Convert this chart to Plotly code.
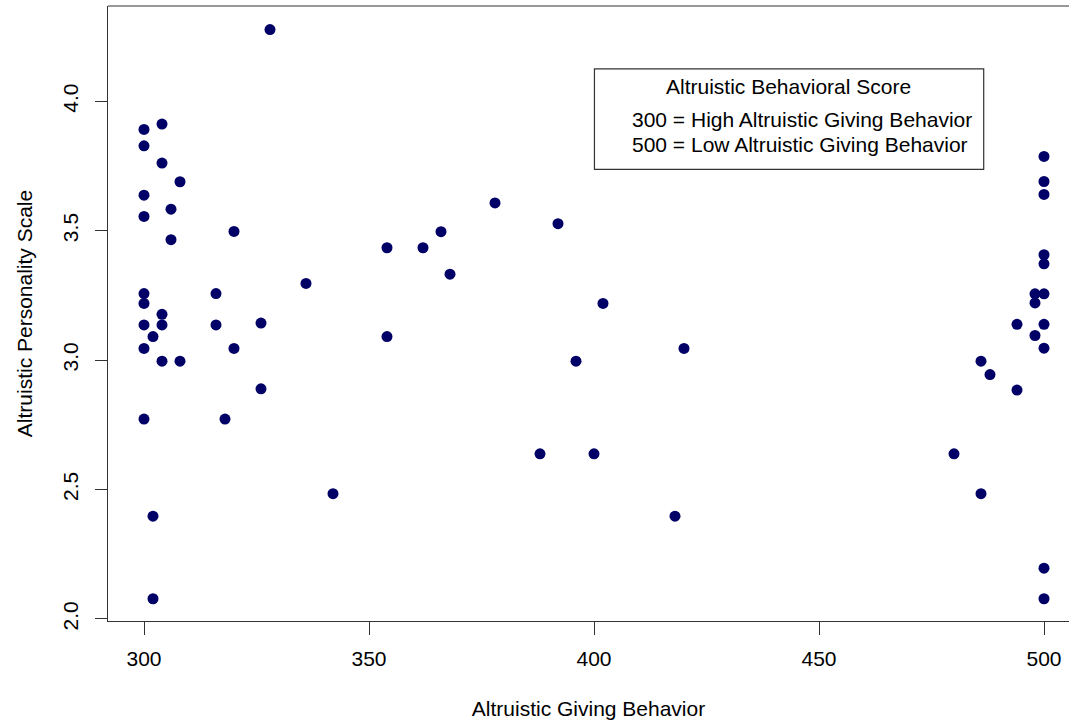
import plotly.graph_objects as go

# Altruistic Giving Behavior (x) and Altruistic Personality Scale (y)
giving = [
    328, 300, 304, 300, 304, 308, 300, 306, 300, 320, 306, 336, 300, 316,
    300, 304, 300, 304, 316, 326, 302, 300, 320, 304, 308, 326, 300, 318,
    342, 302, 302,
    378, 392, 366, 354, 362, 368, 402, 354, 420, 396, 388, 400, 418,
    500, 500, 500, 500, 500, 498, 500, 498, 494, 500, 498, 500, 486, 488,
    494, 480, 486, 500, 500,
]
personality = [
    4.277, 3.891, 3.912, 3.828, 3.761, 3.689, 3.637, 3.583, 3.555, 3.497,
    3.465, 3.296, 3.257, 3.257, 3.219, 3.177, 3.136, 3.136, 3.136, 3.143,
    3.091, 3.045, 3.045, 2.996, 2.996, 2.889, 2.772, 2.772, 2.484, 2.397,
    2.078,
    3.607, 3.527, 3.496, 3.434, 3.434, 3.332, 3.219, 3.091, 3.045, 2.996,
    2.638, 2.638, 2.397,
    3.787, 3.690, 3.640, 3.407, 3.372, 3.256, 3.256, 3.221, 3.138, 3.138,
    3.095, 3.046, 2.996, 2.944, 2.884, 2.638, 2.484, 2.196, 2.078,
]

x_ticks = [300, 350, 400, 450, 500]
y_ticks = [2.0, 2.5, 3.0, 3.5, 4.0]
y_tick_text = ["2.0", "2.5", "3.0", "3.5", "4.0"]

legend_title = "Altruistic Behavioral Score"
legend_lines = [
    "300 = High Altruistic Giving Behavior",
    "500 = Low Altruistic Giving Behavior",
]

FONT = "Liberation Sans, Arial, Helvetica, sans-serif"
FS = 21

fig = go.Figure()
fig.add_trace(go.Scatter(
    x=giving, y=personality, mode="markers",
    marker=dict(color="#000066", size=11, line=dict(width=0)),
    showlegend=False, hoverinfo="x+y",
))

fig.update_layout(
    width=1069, height=726,
    margin=dict(l=108, r=0, t=6, b=105),
    paper_bgcolor="white", plot_bgcolor="white",
    font=dict(family=FONT, size=FS, color="black"),
    showlegend=False,
)

fig.update_xaxes(
    range=[292, 292 + 961 / 4.5],
    tickvals=x_ticks, ticktext=[str(v) for v in x_ticks],
    ticks="outside", ticklen=13, tickwidth=1.2, tickcolor="#333",
    ticklabelstandoff=6,
    showline=True, linecolor="#333", linewidth=1.2,
    showgrid=False, zeroline=False,
    tickfont=dict(family=FONT, size=FS),
    title=dict(text="Altruistic Giving Behavior", standoff=32,
               font=dict(family=FONT, size=FS)),
    automargin=False,
)
fig.update_yaxes(
    range=[1.992, 4.368],
    tickvals=y_ticks, ticktext=y_tick_text, tickangle=-90,
    ticks="outside", ticklen=12, tickwidth=1.2, tickcolor="#333",
    ticklabelstandoff=9,
    showline=True, linecolor="#333", linewidth=1.2,
    showgrid=False, zeroline=False,
    tickfont=dict(family=FONT, size=FS),
    title=dict(text="Altruistic Personality Scale", standoff=20,
               font=dict(family=FONT, size=FS)),
    automargin=False,
)

# top border of the plot box (right side is cut off in the reference)
fig.add_shape(type="line", xref="paper", yref="paper", x0=0, x1=1, y0=1, y1=1,
              line=dict(color="#333", width=1.2))

# legend-like note box in data coordinates
fig.add_shape(type="rect", xref="x", yref="y", x0=400.1, x1=486.6, y0=3.737, y1=4.125,
              line=dict(color="#333", width=1.2), fillcolor="rgba(0,0,0,0)")
fig.add_annotation(x=443.3, y=4.058, xref="x", yref="y", text=legend_title,
                   showarrow=False, xanchor="center", yanchor="middle",
                   font=dict(family=FONT, size=FS))
for line, yv in zip(legend_lines, [3.930, 3.832]):
    fig.add_annotation(x=408.1, y=yv, xref="x", yref="y", text=line,
                       showarrow=False, xanchor="left", yanchor="middle",
                       font=dict(family=FONT, size=FS))

fig.write_html("out.html", config={"displayModeBar": False},
               post_script="document.body.style.margin='0';")
